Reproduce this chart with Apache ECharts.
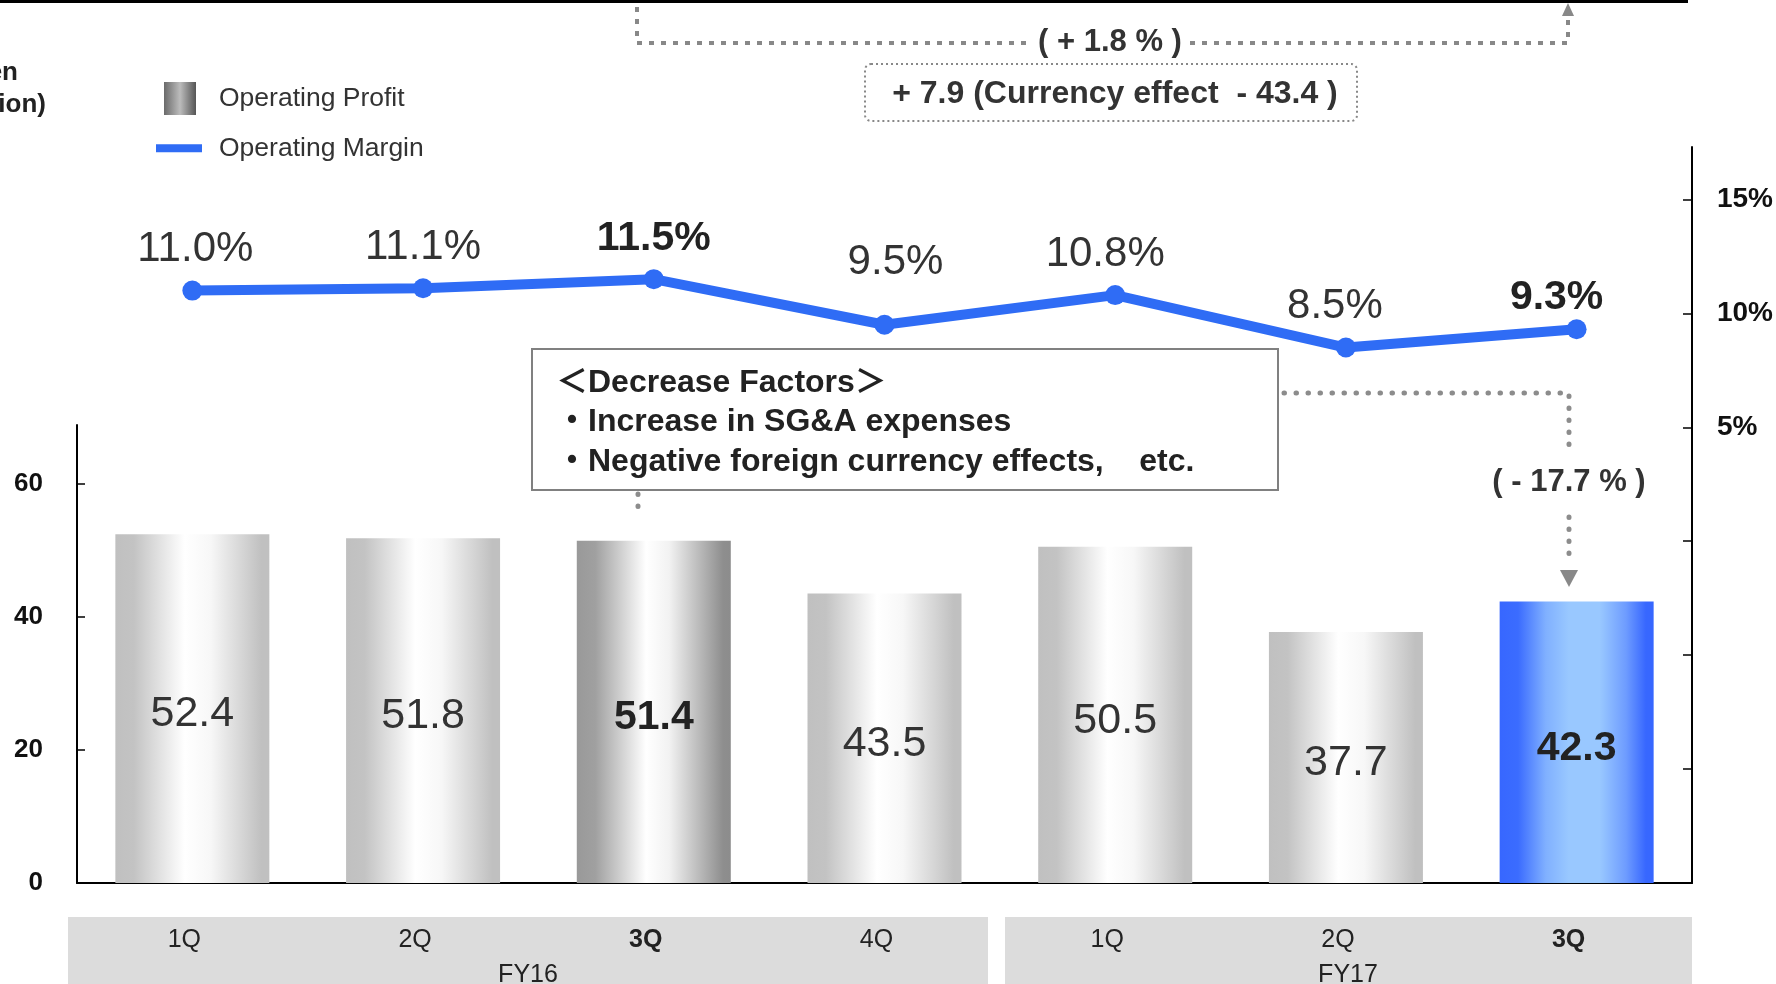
<!DOCTYPE html>
<html>
<head>
<meta charset="utf-8">
<script src="https://cdn.jsdelivr.net/npm/echarts@6/dist/echarts.min.js"></script>
<style>
  html, body { margin: 0; padding: 0; background: #fff; }
  #chart { width: 1776px; height: 984px; }
</style>
</head>
<body>
<div id="chart"></div>
<script>
// data
const quarters = ['1Q', '2Q', '3Q', '4Q', '1Q', '2Q', '3Q'];
const fiscalYear = ['FY16', 'FY16', 'FY16', 'FY16', 'FY17', 'FY17', 'FY17'];
const operatingProfit = [52.4, 51.8, 51.4, 43.5, 50.5, 37.7, 42.3];
const operatingMargin = [11.0, 11.1, 11.5, 9.5, 10.8, 8.5, 9.3];
const highlighted = [false, false, true, false, false, false, true];
const profitLabels = [0, 20, 40, 60];
const marginLabels = [5, 10, 15];

const FONT = "'Liberation Sans', Arial, 'Noto Sans CJK JP', sans-serif";
const categories = quarters.map((q, i) => fiscalYear[i] + ' ' + q);

// where the slide nudged the margin labels (dx, distance above the dot)
const marginLabelShift = [[3, 10], [0, 10], [0, 10], [11, 31], [-10, 10], [-11, 10], [-20, 1]];

const grad = stops => ({
  type: 'linear', x: 0, y: 0, x2: 1, y2: 0,
  colorStops: stops.map(s => ({ offset: s[0], color: s[1] }))
});
const grayBar = grad([[0, '#c0c0c0'], [0.12, '#c3c3c3'], [0.45, '#ffffff'], [0.62, '#f7f7f7'], [0.95, '#c0c0c0'], [1, '#c0c0c0']]);
const darkBar = grad([[0, '#999999'], [0.12, '#a0a0a0'], [0.45, '#ffffff'], [0.6, '#f2f2f2'], [0.95, '#8e8e8e'], [1, '#8c8c8c']]);
const blueBar = grad([[0, '#3767ff'], [0.12, '#3b6cff'], [0.3, '#80b0ff'], [0.45, '#99c8ff'], [0.65, '#99c8ff'], [0.82, '#6e9cff'], [0.95, '#3767ff'], [1, '#3767ff']]);
const legendIcon = grad([[0, '#6a6a6a'], [0.5, '#bcbcbc'], [1, '#555555']]);
const BLUE = '#2f6cf5';

const chart = echarts.init(document.getElementById('chart'));

// dotted / dashed helpers for the slide annotations
const dots = pts => ({
  type: 'polyline', shape: { points: pts },
  style: { stroke: '#8c8c8c', lineWidth: 5, lineCap: 'round', lineDash: [0.5, 11.5], fill: null }
});
const dashes = pts => ({
  type: 'polyline', shape: { points: pts },
  style: { stroke: '#888', lineWidth: 4, lineDash: [5, 7], fill: null }
});
const txt = (x, y, text, o) => ({
  type: 'text', x: x, y: y, z: 10,
  style: Object.assign({
    text: text, font: 'bold 31px ' + FONT, fill: '#333',
    textAlign: 'center', textVerticalAlign: 'middle'
  }, o || {})
});

const option = {
  animation: false,
  textStyle: { fontFamily: FONT },
  legend: [
    {
      data: [{ name: 'Operating Profit', icon: 'rect', itemStyle: { color: legendIcon } }],
      left: 164, top: 82, padding: 0, itemWidth: 32, itemHeight: 33, selectedMode: false,
      textStyle: { fontSize: 26.5, color: '#333', padding: [0, 0, 0, 18] }
    },
    {
      data: [{ name: 'Operating Margin', icon: 'rect' }],
      left: 156, top: 135, padding: 0, itemWidth: 46, itemHeight: 8, selectedMode: false,
      textStyle: { fontSize: 26.5, color: '#333', padding: [0, 0, 0, 12] }
    }
  ],
  grid: [
    { left: 77, right: 84, top: 425, bottom: 101 },
    { left: 77, right: 84, top: 147, bottom: 101 }
  ],
  xAxis: [
    {
      type: 'category', gridIndex: 0, data: categories,
      axisLine: { lineStyle: { color: '#000', width: 2 } },
      axisTick: { show: false },
      axisLabel: {
        margin: 45, fontSize: 25, color: '#222', padding: [0, 16, 0, 0],
        formatter: (v, i) => highlighted[i] ? '{b|' + quarters[i] + '}' : quarters[i],
        rich: { b: { fontSize: 25, fontWeight: 'bold', color: '#222' } }
      }
    },
    { type: 'category', gridIndex: 1, data: categories, show: false }
  ],
  yAxis: [
    {
      type: 'value', gridIndex: 0, position: 'left', min: 0, max: 68.8,
      axisLine: { show: true, lineStyle: { color: '#000', width: 2 } },
      axisTick: { show: true, inside: true, length: 8, lineStyle: { color: '#000', width: 1.5 }, customValues: [20, 40, 60] },
      axisLabel: { customValues: profitLabels, margin: 34, fontSize: 26, fontWeight: 'bold', color: '#111' },
      splitLine: { show: false }
    },
    {
      type: 'value', gridIndex: 1, position: 'right', min: -15, max: 17.3,
      axisLine: { show: true, lineStyle: { color: '#000', width: 2 } },
      axisTick: { show: true, inside: true, length: 9, lineStyle: { color: '#000', width: 1.5 }, customValues: [-10, -5, 0, 5, 10, 15] },
      axisLabel: { customValues: marginLabels, formatter: '{value}%', margin: 25, fontSize: 28, fontWeight: 'bold', color: '#111' },
      splitLine: { show: false }
    }
  ],
  series: [
    {
      name: 'Operating Profit', type: 'bar', xAxisIndex: 0, yAxisIndex: 0,
      barWidth: 154,
      itemStyle: { color: grayBar },
      label: {
        show: true, position: 'inside', offset: [0, 6], fontSize: 43, color: '#333',
        formatter: p => p.value.toFixed(1)
      },
      data: operatingProfit.map((v, i) => ({
        value: v,
        itemStyle: { color: i === 6 ? blueBar : (highlighted[i] ? darkBar : grayBar) },
        label: highlighted[i] ? { fontWeight: 'bold', fontSize: 41, color: '#222' } : {}
      }))
    },
    {
      name: 'Operating Margin', type: 'line', xAxisIndex: 1, yAxisIndex: 1,
      symbol: 'circle', symbolSize: 20, z: 5,
      lineStyle: { color: BLUE, width: 10 },
      itemStyle: { color: BLUE },
      label: {
        show: true, position: 'top', distance: 10, fontSize: 42, color: '#333',
        formatter: p => p.value.toFixed(1) + '%'
      },
      data: operatingMargin.map((v, i) => {
        const lab = { offset: [marginLabelShift[i][0], 0], distance: marginLabelShift[i][1] };
        if (highlighted[i]) { lab.fontWeight = 'bold'; lab.fontSize = 41; lab.color = '#222'; }
        return { value: v, label: lab };
      })
    }
  ],
  graphic: [
    // top rule left from the slide
    { type: 'line', shape: { x1: 0, y1: 1.5, x2: 1688, y2: 1.5 }, style: { stroke: '#000', lineWidth: 3 } },
    // unit text, clipped by the slide edge
    txt(18, 73, '(Yen', { textAlign: 'right', font: 'bold 26px ' + FONT, fill: '#222' }),
    txt(46, 105, 'in billion)', { textAlign: 'right', font: 'bold 26px ' + FONT, fill: '#222' }),
    // fiscal year bands under the axis
    { type: 'rect', z: -1, shape: { x: 68, y: 917, width: 920, height: 67 }, style: { fill: '#dcdcdc' } },
    { type: 'rect', z: -1, shape: { x: 1005, y: 917, width: 687, height: 67 }, style: { fill: '#dcdcdc' } },
    txt(528, 975, fiscalYear[0], { font: '25px ' + FONT, fill: '#222' }),
    txt(1348, 975, fiscalYear[6], { font: '25px ' + FONT, fill: '#222' }),
    // year-over-year bracket at the top
    dashes([[637, 7], [637, 43], [1033, 43]]),
    dashes([[1190, 43], [1568, 43], [1568, 16]]),
    { type: 'polygon', shape: { points: [[1562, 16], [1574, 16], [1568, 3]] }, style: { fill: '#888' } },
    txt(1110, 42, '( + 1.8 % )'),
    {
      type: 'rect', shape: { x: 865, y: 64, width: 492, height: 57, r: 6 },
      style: { fill: null, stroke: '#888', lineWidth: 2, lineDash: [2, 3] }
    },
    txt(1115, 94, '+ 7.9 (Currency effect  - 43.4 )', { font: 'bold 32px ' + FONT }),
    // decrease factors callout
    { type: 'rect', z: 8, shape: { x: 532, y: 349, width: 746, height: 141 }, style: { fill: '#fff', stroke: '#808080', lineWidth: 2 } },
    txt(556, 383, '＜Decrease Factors＞', { textAlign: 'left', font: 'bold 32px ' + FONT, fill: '#222' }),
    txt(556, 422, '・Increase in SG&A expenses', { textAlign: 'left', font: 'bold 32px ' + FONT, fill: '#222' }),
    txt(556, 462, '・Negative foreign currency effects,    etc.', { textAlign: 'left', font: 'bold 32px ' + FONT, fill: '#222' }),
    dots([[638, 494], [638, 516]]),
    dots([[1284, 393], [1569, 393], [1569, 455]]),
    txt(1569, 482, '( - 17.7 % )'),
    dots([[1569, 517], [1569, 565]]),
    { type: 'polygon', shape: { points: [[1560, 570], [1578, 570], [1569, 587]] }, style: { fill: '#888' } }
  ]
};

chart.setOption(option);
</script>
</body>
</html>
